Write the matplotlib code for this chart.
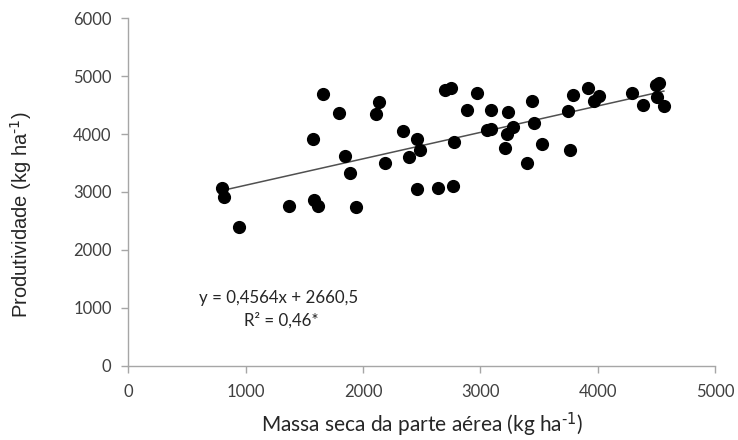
import numpy as np
import matplotlib.pyplot as plt

# Massa seca da parte aérea (kg/ha) e produtividade (kg/ha)
massa_seca = [
    1655, 1799, 2138, 2110, 2339, 2460, 1571, 1842, 2186, 2393,
    1890, 799, 816, 2460, 1367, 1585, 1616, 1943, 941,
    2489, 2774, 2638, 2765, 2701, 2752, 2972, 2884, 3091, 3235,
    3438, 3057, 3088, 3274, 3223, 3455, 3209, 3520, 3393, 3763,
    3749, 3788, 3913, 3963, 4008, 4294, 4387, 4500, 4494, 4517, 4562,
]
produtividade = [
    4697, 4369, 4547, 4340, 4052, 3909, 3921, 3616, 3507, 3604,
    3328, 3076, 2921, 3059, 2753, 2869, 2766, 2736, 2397,
    3731, 3862, 3069, 3104, 4766, 4793, 4713, 4409, 4409, 4379,
    4569, 4064, 4081, 4121, 4007, 4184, 3759, 3828, 3507, 3719,
    4403, 4679, 4793, 4569, 4650, 4713, 4507, 4638, 4840, 4886, 4490,
]

# Regressão linear ajustada
slope = 0.4564
intercept = 2660.5
eq_label = "y = 0,4564x + 2660,5"
r2_label = "R² = 0,46*"

axis_grey = "#a6a6a6"
text_grey = "#404040"

plt.rcParams["mathtext.default"] = "regular"

fig = plt.figure(figsize=(7.38, 4.40), dpi=100)
ax = fig.add_axes([0.1738, 0.1689, 0.7954, 0.7895])

ax.scatter(massa_seca, produtividade, s=72, color="black", zorder=3)

xfit = np.array([min(massa_seca), max(massa_seca)])
ax.plot(xfit, slope * xfit + intercept, color="#505050", lw=1.1, zorder=2)

ax.set_xlim(0, 5000)
ax.set_ylim(0, 6000)
ax.set_xticks(range(0, 5001, 1000))
ax.set_yticks(range(0, 6001, 1000))

for side in ("top", "right"):
    ax.spines[side].set_visible(False)
for side in ("left", "bottom"):
    ax.spines[side].set_color(axis_grey)
    ax.spines[side].set_linewidth(1.0)

ax.tick_params(axis="both", direction="out", length=5, width=1.0,
               color=axis_grey, labelcolor=text_grey, labelsize=12)
ax.tick_params(axis="x", pad=8)
ax.tick_params(axis="y", pad=7)
for lbl in ax.get_xticklabels() + ax.get_yticklabels():
    lbl.set_family("Lato")

# unidades com sobrescrito "-1" (hífen curto, não sinal de menos)
ax.set_xlabel(r"Massa seca da parte aérea (kg ha$^{\text{-1}}$)", family="Lato",
              fontsize=15, color="#262626", va="center")
ax.xaxis.set_label_coords(0.5, -0.171)
ax.set_ylabel(r"Produtividade (kg ha$^{\text{-1}}$)", family="Liberation Sans",
              fontsize=14.5, color="#262626", va="center")
ax.yaxis.set_label_coords(-0.183, 0.434)

ax.text(1279, 1169, eq_label, family="Lato", fontsize=12.2,
        color="#262626", ha="center", va="center")
ax.text(1301, 789, r2_label, family="Lato", fontsize=12.2,
        color="#262626", ha="center", va="center")

fig.savefig("out.png", dpi=100)
